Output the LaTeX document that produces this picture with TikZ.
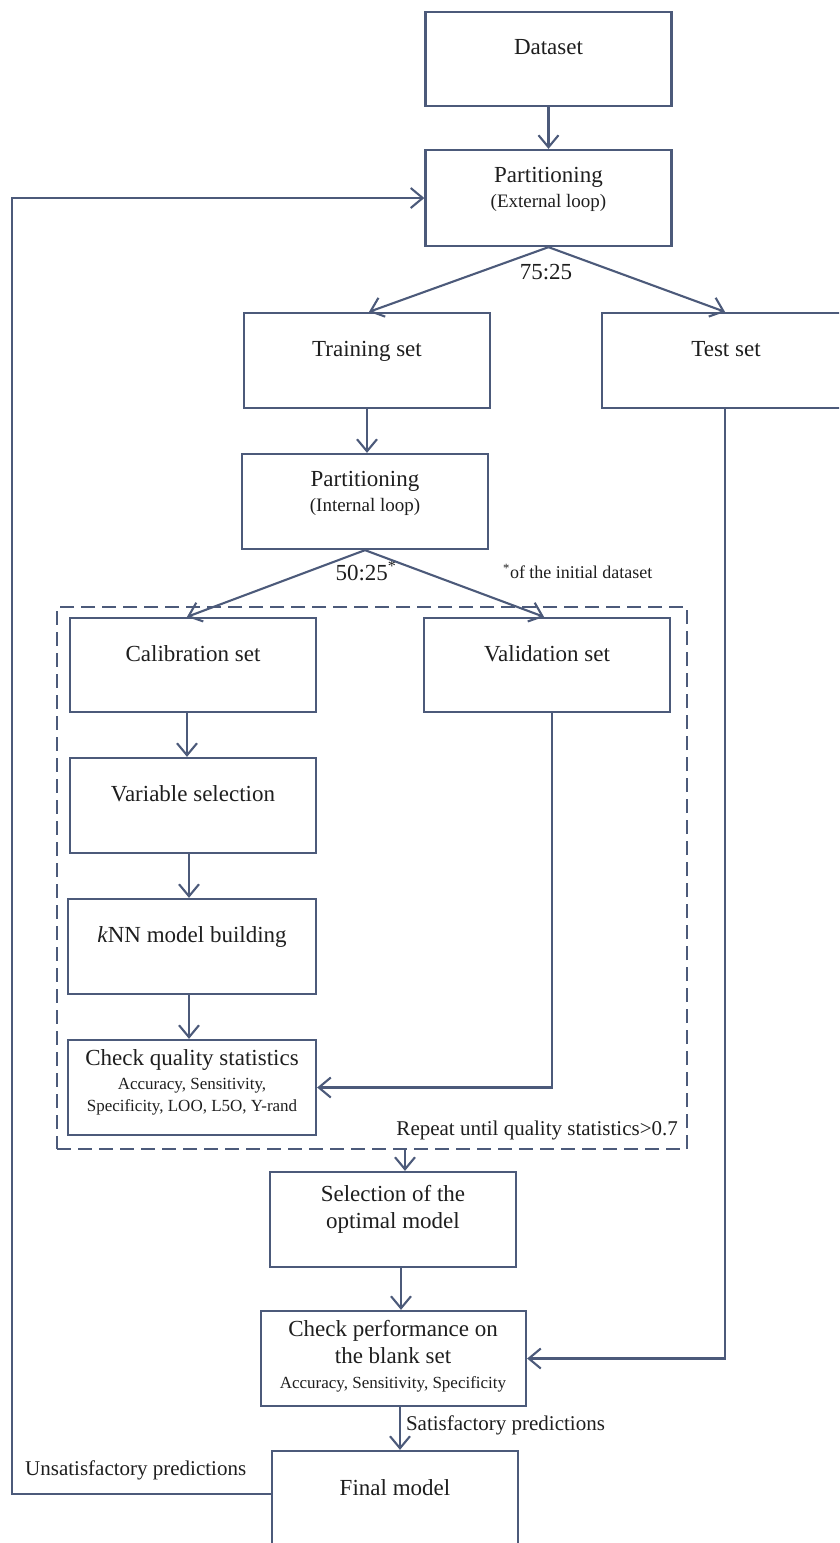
\documentclass[tikz,border=0pt]{standalone}
\usepackage{fontspec}
\setmainfont{Liberation Serif}
\usetikzlibrary{arrows.meta}
\definecolor{lc}{RGB}{76,90,122}
\definecolor{tc}{RGB}{30,30,30}
\tikzset{
  box/.style={draw=lc, line width=2.3pt, inner sep=0pt, minimum width=246pt, minimum height=95pt},
  tx/.style={font=\fontsize{23}{27}\selectfont, text=tc, inner sep=0pt, text height=0.66em, text depth=0pt},
  sm/.style={font=\fontsize{17}{20}\selectfont, text=tc, inner sep=0pt, text height=0.66em, text depth=0pt},
  pm/.style={font=\fontsize{19}{22}\selectfont, text=tc, inner sep=0pt, text height=0.66em, text depth=0pt},
  lbl/.style={font=\fontsize{21}{25}\selectfont, text=tc, inner sep=0pt, text height=0.66em, text depth=0pt},
  arr/.style={draw=lc, line width=2.1pt, -{Straight Barb[length=12pt,width=20pt,line width=2.1pt]}},
  dbox/.style={draw=lc, line width=2pt, dash pattern=on 14pt off 7pt, inner sep=0pt}
}
\begin{document}
\begin{tikzpicture}[x=1pt,y=-1pt]
\useasboundingbox (0,0) rectangle (839,1543);
\clip (0,0) rectangle (839,1543);
% boxes
\node[box, minimum height=94pt] (ds) at (548.5,59) {};
\node[box, minimum height=96pt] (pe) at (548.5,198) {};
\node[box] (tr) at (367,360.5) {};
\node[box] (te) at (725,360.5) {};
\node[box] (pi) at (365,501.5) {};
\node[dbox, minimum width=630pt, minimum height=542pt] (db) at (372,878) {};
\node[box, minimum height=94pt] (cal) at (193,665) {};
\node[box, minimum height=94pt] (val) at (547,665) {};
\node[box] (var) at (193,805.5) {};
\node[box, minimum width=248pt] (knn) at (192,946.5) {};
\node[box, minimum width=248pt] (cq) at (192,1087.5) {};
\node[box] (sel) at (393,1219.5) {};
\node[box, minimum width=265pt] (cp) at (393.5,1358.5) {};
\node[box, minimum height=96pt] (fm) at (395,1499) {};
% texts
\node[tx] (tds) at (548.5,51) {Dataset};
\node[tx] (tpe1) at (548.5,179) {Partitioning};
\node[pm] (tpe2) at (548.5,204) {(External loop)};
\node[tx] (t7525) at (546,276) {75:25};
\node[tx] (ttr) at (367,353) {Training set};
\node[tx] (tte) at (726,353) {Test set};
\node[tx] (tpi1) at (365,483) {Partitioning};
\node[pm] (tpi2) at (365,508) {(Internal loop)};
\node[tx] (t5025) at (366,577) {50:25\textsuperscript{*}};
\node[sm, font=\fontsize{18}{21}\selectfont, anchor=west] (tinit) at (503,575) {\textsuperscript{*}of the initial dataset};
\node[tx] (tcal) at (193,658) {Calibration set};
\node[tx] (tval) at (547,658) {Validation set};
\node[tx] (tvar) at (193,798) {Variable selection};
\node[tx] (tknn) at (192,939) {\textit{k}NN model building};
\node[tx] (tcq1) at (192,1062) {Check quality statistics};
\node[sm] (tcq2) at (192,1086) {Accuracy, Sensitivity,};
\node[sm] (tcq3) at (192,1108) {Specificity, LOO, L5O, Y-rand};
\node[lbl, anchor=east] (trep) at (678,1132) {Repeat until quality statistics>0.7};
\node[tx] (tsel1) at (393,1198) {Selection of the};
\node[tx] (tsel2) at (393,1225) {optimal model};
\node[tx] (tcp1) at (393,1333) {Check performance on};
\node[tx] (tcp2) at (393,1360) {the blank set};
\node[sm] (tcp3) at (393,1385) {Accuracy, Sensitivity, Specificity};
\node[tx] (tfm) at (395,1492) {Final model};
\node[lbl, anchor=west] (tuns) at (25,1472) {Unsatisfactory predictions};
\coordinate (lp) at (12,900);
% connectors
\draw[arr] (ds.south) -- (pe.north);
\draw[arr] ([yshift=5pt]fm.west) -| (lp) |- (pe.west);
\draw[arr] (pe.south) -- ([xshift=2pt]tr.north);
\draw[arr] (pe.south) -- (te.north);
\draw[arr] (tr.south) -- (tr.south |- pi.north);
\draw[arr] (pi.south) -- ([xshift=-6pt]cal.north);
\draw[arr] (pi.south) -- ([xshift=-3pt]val.north);
\draw[arr] ([xshift=-6pt]cal.south) -- ([xshift=-6pt]var.north);
\draw[arr] ([xshift=-4pt]var.south) -- ([xshift=-3pt]knn.north);
\draw[arr] ([xshift=-3pt]knn.south) -- ([xshift=-3pt]cq.north);
\draw[arr] ([xshift=5pt]val.south) |- (cq.east);
\draw[arr] ([xshift=12pt]sel.north |- db.south) -- ([xshift=12pt]sel.north);
\draw[arr] ([xshift=8pt]sel.south) -- ([xshift=8pt]sel.south |- cp.north);
\draw[arr] (te.south) |- (cp.east);
\draw[arr] ([xshift=6.5pt]cp.south) -- node[lbl, anchor=west, xshift=5pt, yshift=1pt] (tsat) {Satisfactory predictions} ([xshift=6.5pt]cp.south |- fm.north);
\end{tikzpicture}
\end{document}
